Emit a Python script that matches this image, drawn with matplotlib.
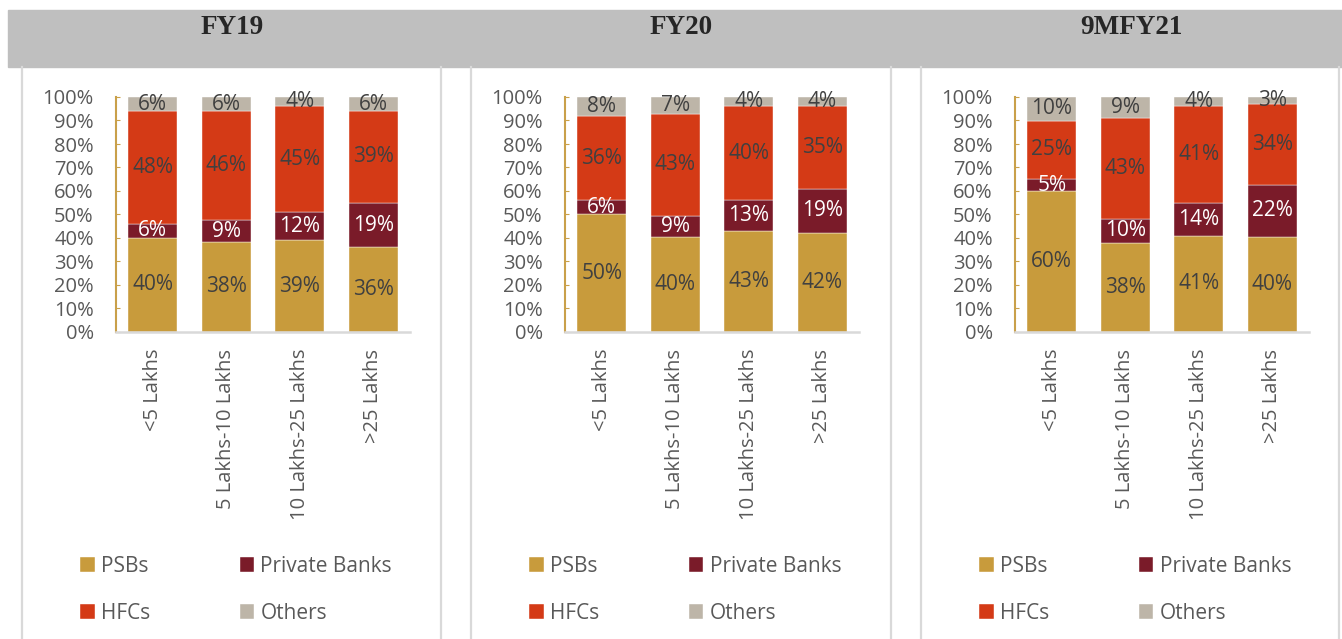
import numpy as np
import matplotlib.pyplot as plt
from matplotlib.patches import Rectangle
from matplotlib.lines import Line2D

categories = ["<5 Lakhs", "5 Lakhs-10 Lakhs", "10 Lakhs-25 Lakhs", ">25 Lakhs"]
periods = ["FY19", "FY20", "9MFY21"]
series = ["PSBs", "Private Banks", "HFCs", "Others"]

psbs = [[40, 38, 39, 36], [50, 40, 43, 42], [60, 38, 41, 40]]
private_banks = [[6, 9, 12, 19], [6, 9, 13, 19], [5, 10, 14, 22]]
hfcs = [[48, 46, 45, 39], [36, 43, 40, 35], [25, 43, 41, 34]]
others = [[6, 6, 4, 6], [8, 7, 4, 4], [10, 9, 4, 3]]

colors = ["#C89B3C", "#7A1B29", "#D43A16", "#BDB5A8"]
label_colors = ["#404040", "white", "#404040", "#404040"]
gray_text = "#595959"

plt.rcParams['font.family'] = ['Open Sans', 'DejaVu Sans']

W, H = 1342, 639
fig = plt.figure(figsize=(W / 100, H / 100), dpi=100)


def fx(px):
    return px / W


def fy(py):
    return 1 - py / H


# header band and panel borders
fig.patches.append(Rectangle((fx(8), fy(67)), fx(1334), (67 - 10) / H,
                             transform=fig.transFigure, color="#BFBFBF", zorder=0))
for xl in [22, 441, 471, 891, 921, 1339]:
    fig.add_artist(Line2D([fx(xl), fx(xl)], [fy(67), 0], transform=fig.transFigure,
                          color="#D9D9D9", lw=1.6))

panel_off = [0, 449, 899]
for p, period in enumerate(periods):
    off = panel_off[p]
    fig.text(fx(232 + off), fy(28), period, ha="center", va="center",
             family="Liberation Serif", weight="bold", fontsize=19.5, color="#262626")

    ax = fig.add_axes([fx(116 + off), fy(332), 294 / W, 235 / H])
    data = np.array([psbs[p], private_banks[p], hfcs[p], others[p]], dtype=float)
    norm = data / data.sum(axis=0) * 100
    x = np.arange(len(categories))
    bottom = np.zeros(len(categories))
    for i, name in enumerate(series):
        bars = ax.bar(x, norm[i], 0.667, bottom=bottom, color=colors[i], label=name,
                      edgecolor="white", linewidth=0.3)
        ax.bar_label(bars, labels=[f"{int(v)}%" for v in data[i]], label_type="center",
                     color=label_colors[i], fontsize=15)
        bottom += norm[i]

    ax.set_xlim(-0.5, 3.5)
    ax.set_ylim(0, 100)
    ax.set_yticks(range(0, 101, 10))
    ax.set_yticklabels([f"{v}%" for v in range(0, 101, 10)])
    ax.set_xticks(x)
    ax.set_xticklabels(categories, rotation=90)
    for s in ["top", "right"]:
        ax.spines[s].set_visible(False)
    ax.spines["left"].set_color("#C9A04A")
    ax.spines["left"].set_linewidth(1.5)
    ax.spines["bottom"].set_color("#D9D9D9")
    ax.spines["bottom"].set_linewidth(1.8)
    ax.tick_params(axis="y", direction="in", length=3, color="#C9A04A",
                   labelsize=14.5, labelcolor=gray_text, pad=16)
    ax.tick_params(axis="x", length=0, labelsize=14.5, labelcolor=gray_text, pad=12)

    handles, labels = ax.get_legend_handles_labels()
    order = [0, 2, 1, 3]
    fig.legend([handles[k] for k in order], [labels[k] for k in order],
               loc="upper left", bbox_to_anchor=(fx(80 + off), fy(556)),
               bbox_transform=fig.transFigure, ncol=2, frameon=False,
               fontsize=15, labelcolor=gray_text, handlelength=0.7,
               handleheight=0.7, handletextpad=0.3, columnspacing=4.3,
               labelspacing=1.25, borderpad=0, borderaxespad=0)

fig.savefig("out.png", dpi=100)
